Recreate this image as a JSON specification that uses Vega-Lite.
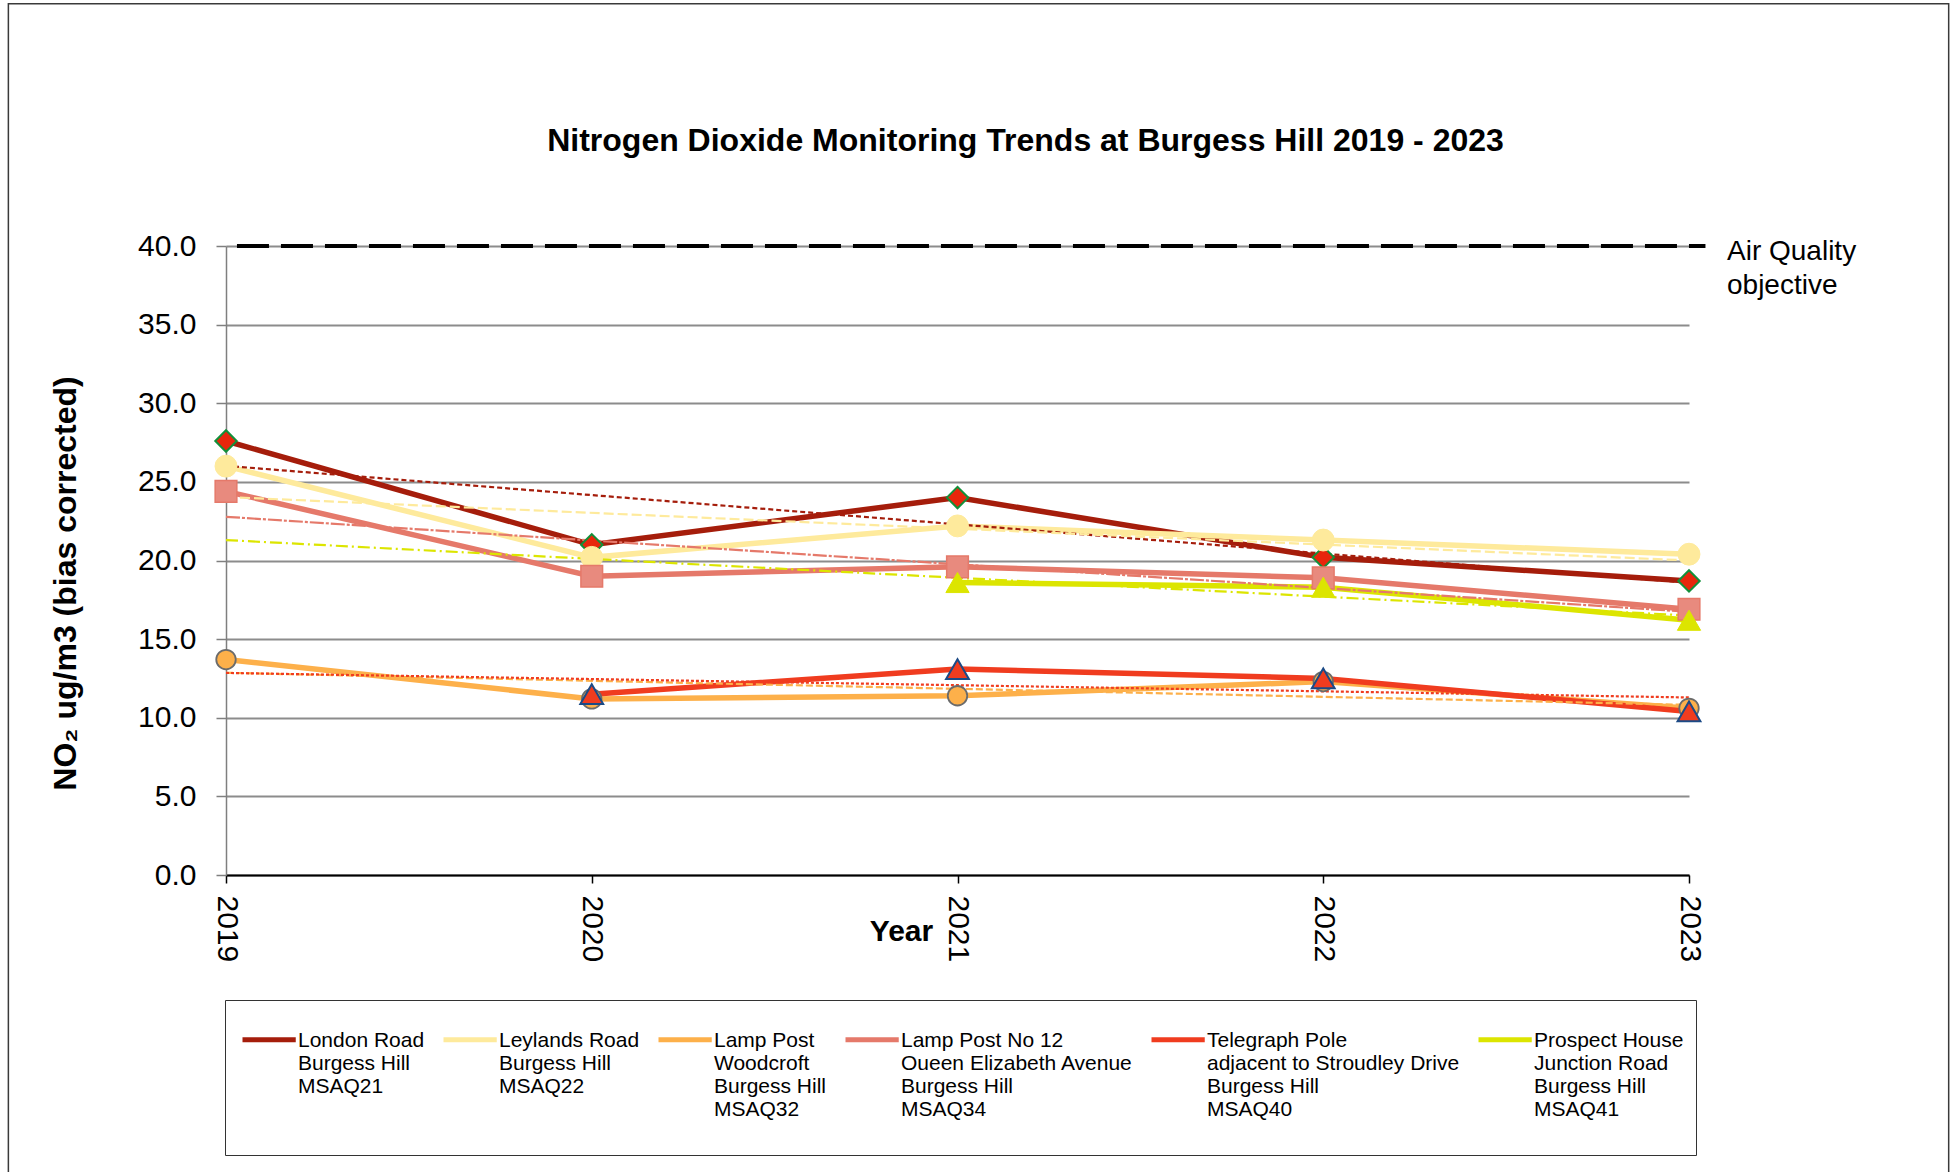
{
  "$schema": "https://vega.github.io/schema/vega-lite/v6.json",
  "autosize": {"type": "none"},
  "width": 1463,
  "height": 629,
  "padding": {"left": 226, "top": 246, "right": 270, "bottom": 297},
  "background": "white",
  "config": {
    "font": "Liberation Sans",
    "view": {"stroke": null}
  },
  "title": {
    "text": "Nitrogen Dioxide Monitoring Trends at Burgess Hill 2019 - 2023",
    "fontSize": 32,
    "fontWeight": "bold",
    "color": "#000000",
    "anchor": "middle",
    "frame": "group",
    "baseline": "middle",
    "offset": -170,
    "dx": 68
  },
  "data": {
    "values": [
      {"series": "London Road|Burgess Hill|MSAQ21", "year": 2019, "value": 27.6},
      {"series": "London Road|Burgess Hill|MSAQ21", "year": 2020, "value": 21.0},
      {"series": "London Road|Burgess Hill|MSAQ21", "year": 2021, "value": 24.0},
      {"series": "London Road|Burgess Hill|MSAQ21", "year": 2022, "value": 20.2},
      {"series": "London Road|Burgess Hill|MSAQ21", "year": 2023, "value": 18.7},
      {"series": "Leylands Road|Burgess Hill|MSAQ22", "year": 2019, "value": 26.0},
      {"series": "Leylands Road|Burgess Hill|MSAQ22", "year": 2020, "value": 20.2},
      {"series": "Leylands Road|Burgess Hill|MSAQ22", "year": 2021, "value": 22.2},
      {"series": "Leylands Road|Burgess Hill|MSAQ22", "year": 2022, "value": 21.3},
      {"series": "Leylands Road|Burgess Hill|MSAQ22", "year": 2023, "value": 20.4},
      {"series": "Lamp Post|Woodcroft|Burgess Hill|MSAQ32", "year": 2019, "value": 13.7},
      {"series": "Lamp Post|Woodcroft|Burgess Hill|MSAQ32", "year": 2020, "value": 11.2},
      {"series": "Lamp Post|Woodcroft|Burgess Hill|MSAQ32", "year": 2021, "value": 11.4},
      {"series": "Lamp Post|Woodcroft|Burgess Hill|MSAQ32", "year": 2022, "value": 12.3},
      {"series": "Lamp Post|Woodcroft|Burgess Hill|MSAQ32", "year": 2023, "value": 10.6},
      {"series": "Lamp Post No 12|Oueen Elizabeth Avenue|Burgess Hill|MSAQ34", "year": 2019, "value": 24.4},
      {"series": "Lamp Post No 12|Oueen Elizabeth Avenue|Burgess Hill|MSAQ34", "year": 2020, "value": 19.0},
      {"series": "Lamp Post No 12|Oueen Elizabeth Avenue|Burgess Hill|MSAQ34", "year": 2021, "value": 19.6},
      {"series": "Lamp Post No 12|Oueen Elizabeth Avenue|Burgess Hill|MSAQ34", "year": 2022, "value": 18.9},
      {"series": "Lamp Post No 12|Oueen Elizabeth Avenue|Burgess Hill|MSAQ34", "year": 2023, "value": 16.9},
      {"series": "Telegraph Pole|adjacent to Stroudley Drive|Burgess Hill|MSAQ40", "year": 2020, "value": 11.5},
      {"series": "Telegraph Pole|adjacent to Stroudley Drive|Burgess Hill|MSAQ40", "year": 2021, "value": 13.1},
      {"series": "Telegraph Pole|adjacent to Stroudley Drive|Burgess Hill|MSAQ40", "year": 2022, "value": 12.5},
      {"series": "Telegraph Pole|adjacent to Stroudley Drive|Burgess Hill|MSAQ40", "year": 2023, "value": 10.4},
      {"series": "Prospect House|Junction Road|Burgess Hill|MSAQ41", "year": 2021, "value": 18.6},
      {"series": "Prospect House|Junction Road|Burgess Hill|MSAQ41", "year": 2022, "value": 18.3},
      {"series": "Prospect House|Junction Road|Burgess Hill|MSAQ41", "year": 2023, "value": 16.2}
    ]
  },
  "layer": [
    {
      "data": {"values": [{}]},
      "mark": {"type": "rect", "fill": null, "stroke": "#3a3a3a", "strokeWidth": 1.5, "clip": false},
      "encoding": {
        "x": {"datum": 2018.405},
        "x2": {"datum": 2023.71},
        "y": {"datum": 55.4},
        "y2": {"datum": -25}
      }
    },
    {
      "data": {"values": [{}]},
      "mark": {"type": "rule", "stroke": "#000000", "strokeWidth": 4, "strokeDash": [32, 12]},
      "encoding": {
        "x": {"datum": 2019.03},
        "x2": {"datum": 2023.045},
        "y": {"datum": 40}
      }
    },
    {
      "data": {"values": [{}]},
      "mark": {"type": "text", "align": "left", "baseline": "alphabetic", "fontSize": 28, "fontWeight": "normal", "lineBreak": "|", "lineHeight": 34, "dx": 38, "dy": 14, "fill": "#000000"},
      "encoding": {
        "x": {"datum": 2023},
        "y": {"datum": 40},
        "text": {"value": "Air Quality|objective"}
      }
    },
    {
      "mark": {"type": "line", "strokeWidth": 5.5},
      "encoding": {
        "x": {
          "field": "year", "type": "quantitative",
          "scale": {"domain": [2019, 2023], "nice": false, "zero": false},
          "axis": {
            "values": [2019, 2020, 2021, 2022, 2023],
            "format": "d",
            "labelAngle": 90,
            "labelFontSize": 30,
            "labelColor": "#000000",
            "labelPadding": 12,
            "tickSize": 8,
            "tickColor": "#000000",
            "tickWidth": 1.5,
            "domainColor": "#000000",
            "domainWidth": 2,
            "grid": false,
            "title": "Year",
            "titleFontSize": 30,
            "titleFontWeight": "bold",
            "titleColor": "#000000",
            "titleX": 675,
            "titleY": 56,
            "titleAlign": "center",
            "titleBaseline": "middle"
          }
        },
        "y": {
          "field": "value", "type": "quantitative",
          "scale": {"domain": [0, 40], "nice": false},
          "axis": {
            "values": [0, 5, 10, 15, 20, 25, 30, 35, 40],
            "format": ".1f",
            "labelFontSize": 30,
            "labelColor": "#000000",
            "labelPadding": 20,
            "tickSize": 10,
            "tickColor": "#7f7f7f",
            "tickWidth": 1.5,
            "domainColor": "#7f7f7f",
            "domainWidth": 1.5,
            "grid": true,
            "gridColor": "#8c8c8c",
            "gridWidth": 2,
            "title": "NO₂ ug/m3 (bias corrected)",
            "titleFontSize": 32,
            "titleFontWeight": "bold",
            "titleColor": "#000000",
            "titleX": -161,
            "titleY": 337,
            "titleAngle": -90,
            "titleAlign": "center",
            "titleBaseline": "middle"
          }
        },
        "color": {
          "field": "series", "type": "nominal",
          "scale": {
            "domain": [
              "London Road|Burgess Hill|MSAQ21",
              "Leylands Road|Burgess Hill|MSAQ22",
              "Lamp Post|Woodcroft|Burgess Hill|MSAQ32",
              "Lamp Post No 12|Oueen Elizabeth Avenue|Burgess Hill|MSAQ34",
              "Telegraph Pole|adjacent to Stroudley Drive|Burgess Hill|MSAQ40",
              "Prospect House|Junction Road|Burgess Hill|MSAQ41"
            ],
            "range": ["#A51D0B", "#FEEA9C", "#FDB04A", "#E5796A", "#F03C1F", "#DCE500"]
          },
          "legend": {
            "title": null,
            "orient": "none",
            "legendX": -1,
            "legendY": 754,
            "direction": "horizontal",
            "columns": 6,
            "symbolType": "M-0.8,0.667L2.75,0.667",
            "symbolSize": 900,
            "symbolStrokeWidth": 5,
            "labelFontSize": 21,
            "labelColor": "#000000",
            "labelExpr": "length(split(datum.label, '|')) < 4 ? split(datum.label + '| | ', '|') : split(datum.label + '| ', '|')",
            "labelLimit": 500,
            "labelOffset": 26,
            "labelBaseline": "top",
            "columnPadding": 8,
            "padding": 12,
            "strokeColor": "#333333",
            "cornerRadius": 0
          }
        }
      }
    },
    {
      "transform": [{"filter": "datum.series == 'London Road|Burgess Hill|MSAQ21'"}, {"regression": "value", "on": "year", "extent": [2019, 2023]}],
      "mark": {"type": "line", "stroke": "#A51D0B", "strokeWidth": 2.2, "strokeDash": [5, 3]},
      "encoding": {"x": {"field": "year", "type": "quantitative"}, "y": {"field": "value", "type": "quantitative"}}
    },
    {
      "transform": [{"filter": "datum.series == 'Leylands Road|Burgess Hill|MSAQ22'"}, {"regression": "value", "on": "year", "extent": [2019, 2023]}],
      "mark": {"type": "line", "stroke": "#FEEA9C", "strokeWidth": 2.2, "strokeDash": [10, 4]},
      "encoding": {"x": {"field": "year", "type": "quantitative"}, "y": {"field": "value", "type": "quantitative"}}
    },
    {
      "transform": [{"filter": "datum.series == 'Lamp Post|Woodcroft|Burgess Hill|MSAQ32'"}, {"regression": "value", "on": "year", "extent": [2019, 2023]}],
      "mark": {"type": "line", "stroke": "#FDB04A", "strokeWidth": 2.2, "strokeDash": [7, 3]},
      "encoding": {"x": {"field": "year", "type": "quantitative"}, "y": {"field": "value", "type": "quantitative"}}
    },
    {
      "transform": [{"filter": "datum.series == 'Lamp Post No 12|Oueen Elizabeth Avenue|Burgess Hill|MSAQ34'"}, {"regression": "value", "on": "year", "extent": [2019, 2023]}],
      "mark": {"type": "line", "stroke": "#E5796A", "strokeWidth": 2.2, "strokeDash": [14, 2, 3, 2]},
      "encoding": {"x": {"field": "year", "type": "quantitative"}, "y": {"field": "value", "type": "quantitative"}}
    },
    {
      "transform": [{"filter": "datum.series == 'Telegraph Pole|adjacent to Stroudley Drive|Burgess Hill|MSAQ40'"}, {"regression": "value", "on": "year", "extent": [2019, 2023]}],
      "mark": {"type": "line", "stroke": "#F03C1F", "strokeWidth": 2.2, "strokeDash": [3, 2]},
      "encoding": {"x": {"field": "year", "type": "quantitative"}, "y": {"field": "value", "type": "quantitative"}}
    },
    {
      "transform": [{"filter": "datum.series == 'Prospect House|Junction Road|Burgess Hill|MSAQ41'"}, {"regression": "value", "on": "year", "extent": [2019, 2023]}],
      "mark": {"type": "line", "stroke": "#DCE500", "strokeWidth": 2.2, "strokeDash": [12, 4, 2, 4]},
      "encoding": {"x": {"field": "year", "type": "quantitative"}, "y": {"field": "value", "type": "quantitative"}}
    },
    {
      "transform": [{"filter": "datum.series == 'London Road|Burgess Hill|MSAQ21'"}],
      "mark": {"type": "point", "shape": "diamond", "filled": true, "opacity": 1, "fill": "#E8260C", "stroke": "#12903A", "strokeWidth": 2, "size": 460},
      "encoding": {"x": {"field": "year", "type": "quantitative"}, "y": {"field": "value", "type": "quantitative"}}
    },
    {
      "transform": [{"filter": "datum.series == 'Leylands Road|Burgess Hill|MSAQ22'"}],
      "mark": {"type": "point", "shape": "circle", "filled": true, "opacity": 1, "fill": "#FEEA9C", "stroke": "#FEEA9C", "strokeWidth": 1, "size": 480},
      "encoding": {"x": {"field": "year", "type": "quantitative"}, "y": {"field": "value", "type": "quantitative"}}
    },
    {
      "transform": [{"filter": "datum.series == 'Lamp Post|Woodcroft|Burgess Hill|MSAQ32'"}],
      "mark": {"type": "point", "shape": "circle", "filled": true, "opacity": 1, "fill": "#FDB04A", "stroke": "#6B6B6B", "strokeWidth": 1.8, "size": 380},
      "encoding": {"x": {"field": "year", "type": "quantitative"}, "y": {"field": "value", "type": "quantitative"}}
    },
    {
      "transform": [{"filter": "datum.series == 'Lamp Post No 12|Oueen Elizabeth Avenue|Burgess Hill|MSAQ34'"}],
      "mark": {"type": "point", "shape": "square", "filled": true, "opacity": 1, "fill": "#E88A7E", "stroke": "#E5796A", "strokeWidth": 1.5, "size": 470},
      "encoding": {"x": {"field": "year", "type": "quantitative"}, "y": {"field": "value", "type": "quantitative"}}
    },
    {
      "transform": [{"filter": "datum.series == 'Telegraph Pole|adjacent to Stroudley Drive|Burgess Hill|MSAQ40'"}],
      "mark": {"type": "point", "shape": "triangle-up", "filled": true, "opacity": 1, "fill": "#F03C1F", "stroke": "#1B4A86", "strokeWidth": 2, "size": 520},
      "encoding": {"x": {"field": "year", "type": "quantitative"}, "y": {"field": "value", "type": "quantitative"}}
    },
    {
      "transform": [{"filter": "datum.series == 'Prospect House|Junction Road|Burgess Hill|MSAQ41'"}],
      "mark": {"type": "point", "shape": "triangle-up", "filled": true, "opacity": 1, "fill": "#DCE500", "stroke": "#DCE500", "strokeWidth": 1, "size": 540},
      "encoding": {"x": {"field": "year", "type": "quantitative"}, "y": {"field": "value", "type": "quantitative"}}
    }
  ]
}
